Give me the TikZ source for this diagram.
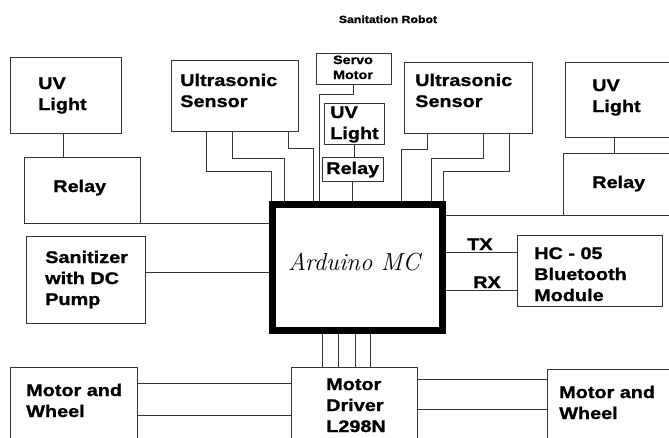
\documentclass[tikz,border=0pt]{standalone}
\usepackage{fontspec}
\newfontfamily\lblfont{Liberation Sans}[FakeStretch=1.18, FakeBold=1.2]
\usetikzlibrary{fit}
\begin{document}
\begin{tikzpicture}[x=0.75pt, y=-0.75pt, box/.style={draw=black!80, line width=0.75pt, inner sep=0pt}, lbl/.style={font=\lblfont\bfseries\fontsize{12.6}{15.75}\selectfont, align=left, inner sep=0pt, anchor=base west}, small/.style={font=\lblfont\bfseries\fontsize{9.1}{11.25}\selectfont, align=center, inner sep=0pt, anchor=base}, wire/.style={draw=black!80, line width=0.75pt}]
\useasboundingbox (0,0) rectangle (669,437); \clip (0,0) rectangle (669,437);
\node[font=\lblfont\bfseries\fontsize{7.8}{9}\selectfont, anchor=base, inner sep=0pt] (title) at (388,23) {Sanitation Robot};
% boxes
\node[box, fit={(10,57) (121,133)}] (uvL) {}; \node[lbl] (uvLt) at (38,110) {UV\\Light};
\node[box, fit={(24,157) (140,223)}] (relL) {}; \node[lbl] (relLt) at (53,192) {Relay};
\node[box, fit={(171,60) (298,131)}] (usL) {}; \node[lbl] (usLt) at (180,107) {Ultrasonic\\Sensor};
\node[box, fit={(316,53) (391,84)}] (servo) {}; \node[small] (servot) at (353,79) {Servo\\Motor};
\node[box, fit={(324,103) (384,144)}] (uvM) {}; \node[lbl] (uvMt) at (330,139) {UV\\Light};
\node[box, fit={(322,157) (383,181)}] (relM) {}; \node[lbl] (relMt) at (326,174) {Relay};
\node[box, fit={(404,62) (532,133)}] (usR) {}; \node[lbl] (usRt) at (415,107) {Ultrasonic\\Sensor};
\node[box, fit={(565,62) (690,137)}] (uvR) {}; \node[lbl] (uvRt) at (592,112) {UV\\Light};
\node[box, fit={(563,153) (690,215)}] (relR) {}; \node[lbl] (relRt) at (592,188) {Relay};
\node[box, fit={(26,236) (145,323)}] (san) {}; \node[lbl] (sant) at (45,305) {Sanitizer\\with DC\\Pump};
\node[box, fit={(517,235) (662,306)}] (hc) {}; \node[lbl] (hct) at (534,301) {HC - 05\\Bluetooth\\Module};
\node[box, fit={(291,367) (417,460)}] (drv) {}; \node[lbl] (drvt) at (326,432) {Motor\\Driver\\L298N};
\node[box, fit={(10,367) (137,460)}] (mwL) {}; \node[lbl] (mwLt) at (26,417) {Motor and\\Wheel};
\node[box, fit={(547,369) (690,460)}] (mwR) {}; \node[lbl] (mwRt) at (559,419) {Motor and\\Wheel};
\node[box, draw=black, line width=5.25pt, fit={(272.5,204.5) (442.5,330.5)}] (ard) {};
\node[font=\itshape\fontsize{18.5}{20}\selectfont, inner sep=0pt, anchor=base] (ardt) at (354,270) {Arduino MC};
% wires
\draw[wire] (63,0 |- uvL.south) -- (63,0 |- relL.north); \draw[wire] (relL.south east) -- (relL.south east -| ard.west);
\draw[wire] (206,0 |- usL.south) -- (206,171) -| (271,0 |- ard.north); \draw[wire] (232,0 |- usL.south) -- (232,158) -| (284,0 |- ard.north); \draw[wire] (288,0 |- usL.south) -- (288,148) -| (313,0 |- ard.north);
\draw[wire] (servo.south) -- ++(0,10) -| (319,0 |- ard.north);
\draw[wire] (uvM.south) -- (uvM.south |- relM.north); \draw[wire] (relM.south) -- (relM.south |- ard.north);
\draw[wire] (427,0 |- usR.south) -- (427,149) -| (401,0 |- ard.north); \draw[wire] (483,0 |- usR.south) -- (483,158) -| (431,0 |- ard.north); \draw[wire] (509,0 |- usR.south) -- (509,171) -| (443,0 |- ard.north);
\draw[wire] (614,0 |- uvR.south) -- (614,0 |- relR.north); \draw[wire] (relR.south west -| ard.east) -- (relR.south west);
\draw[wire] (san.east |- 0,272) -- (ard.west |- 0,272);
\draw[wire] (ard.east |- 0,252) -- (hc.west |- 0,252); \node[lbl] (tx) at (467,250) {TX};
\draw[wire] (ard.east |- 0,290) -- (hc.west |- 0,290); \node[lbl] (rx) at (473,288) {RX};
\foreach \xw in {322,338,355,370} \draw[wire] (\xw,0 |- ard.south) -- (\xw,0 |- drv.north);
\foreach \yw in {383,415} \draw[wire] (mwL.east |- 0,\yw) -- (drv.west |- 0,\yw);
\foreach \yw in {379,409} \draw[wire] (drv.east |- 0,\yw) -- (mwR.west |- 0,\yw);
\end{tikzpicture}
\end{document}
